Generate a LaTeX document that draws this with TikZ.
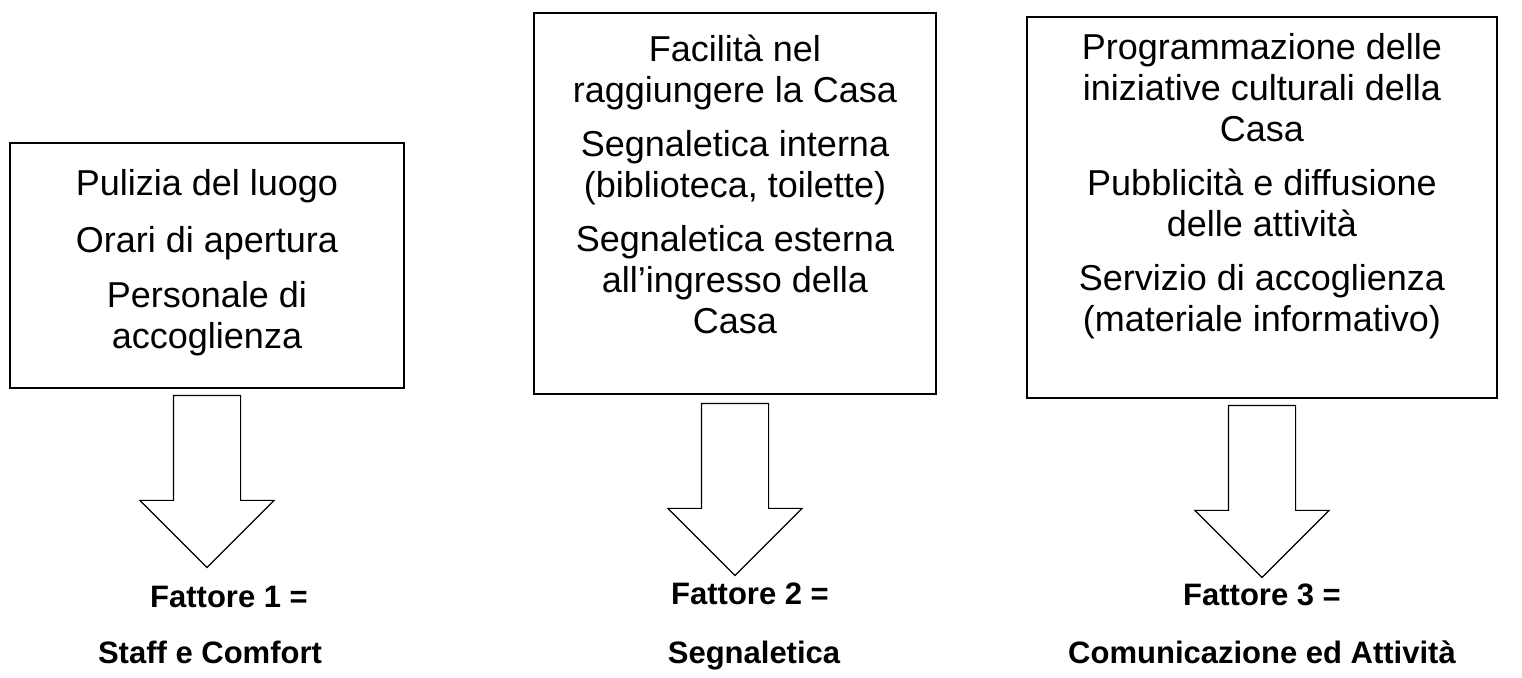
\documentclass[tikz,border=0pt]{standalone}
\usepackage{fontspec}
\setmainfont{Liberation Sans}
\usetikzlibrary{shapes.arrows}

\tikzset{
  itembox/.style={draw, line width=0.9pt, inner sep=0pt},
  itemtext/.style={anchor=north, inner sep=0pt, align=center,
    font=\fontsize{18}{20.5}\selectfont},
  bigarrow/.style={single arrow, draw, line width=0.6pt, rotate=-90,
    inner xsep=0pt, inner ysep=16.5pt, minimum height=86pt,
    single arrow head extend=16.75pt, single arrow tip angle=90},
  factor/.style={font=\bfseries\fontsize{15.5}{18}\selectfont, anchor=base}
}

\begin{document}
\begin{tikzpicture}[x=0.5pt, y=-0.5pt]
    \useasboundingbox (0,0) rectangle (1522,678);

    % Boxes
    \node (box1) [itembox, minimum width=197pt, minimum height=122.5pt] at (207,265.5) {};
    \node (box2) [itembox, minimum width=201pt, minimum height=190.5pt] at (735,203.5) {};
    \node (box3) [itembox, minimum width=235pt, minimum height=190.5pt] at (1262,207.5) {};

    % Box texts
    \node (txt1) [itemtext] at ([yshift=-13.5pt]box1.north)
        {Pulizia del luogo\\[8pt]Orari di apertura\\[7pt]Personale di\\accoglienza};
    \node (txt2) [itemtext] at ([yshift=-11pt]box2.north)
        {Facilità nel\\raggiungere la Casa\\[6.5pt]Segnaletica interna\\(biblioteca, toilette)\\[6.5pt]Segnaletica esterna\\all’ingresso della\\Casa};
    \node (txt3) [itemtext] at ([yshift=-8.5pt]box3.north)
        {Programmazione delle\\iniziative culturali della\\Casa\\[6.5pt]Pubblicità e diffusione\\delle attività\\[6.5pt]Servizio di accoglienza\\(materiale informativo)};

    % Arrows
    \node (arr1) [bigarrow, anchor=tail] at ([yshift=-3pt]box1.south) {};
    \node (arr2) [bigarrow, anchor=tail] at ([yshift=-4pt]box2.south) {};
    \node (arr3) [bigarrow, anchor=tail] at ([yshift=-3pt]box3.south) {};

    % Factors
    \node (fact1) [factor] at (229,608) {Fattore 1 =};
    \node (name1) [factor] at (210,663) {Staff e Comfort};
    \node (fact2) [factor] at (750,604) {Fattore 2 =};
    \node (name2) [factor] at (754,663) {Segnaletica};
    \node (fact3) [factor] at (1262,606) {Fattore 3 =};
    \node (name3) [factor] at (1262,663) {Comunicazione ed Attività};
\end{tikzpicture}
\end{document}
